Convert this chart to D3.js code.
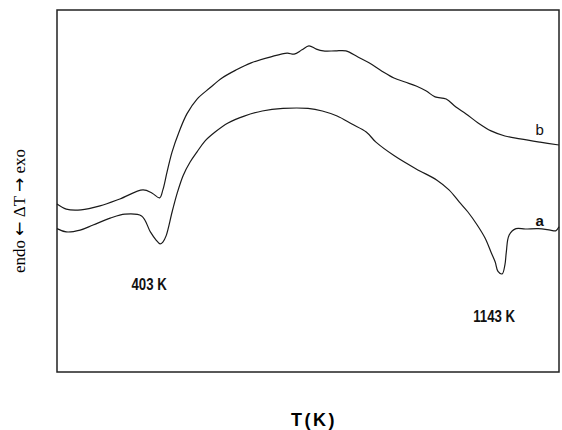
<!DOCTYPE html>
<html lang="en">
<head>
<meta charset="UTF-8">
<title>DTA curves</title>
<script src="https://cdnjs.cloudflare.com/ajax/libs/d3/7.8.5/d3.min.js"></script>
<style>
  body { margin: 0; background: #fff; }
  .curve { fill: none; stroke: #1a1a1a; stroke-width: 1.2; stroke-linejoin: round; }
  .frame { fill: none; stroke: #222; stroke-width: 1.5; }
  .peak { font-family: "Liberation Sans", Arial, sans-serif; font-weight: bold; font-size: 16.5px; fill: #111; }
  .tag { font-family: "Liberation Sans", Arial, sans-serif; font-size: 15px; fill: #111; }
</style>
</head>
<body>
<div id="chart"></div>
<script>
// temperature (K) and ΔT (arbitrary units)
const tempB = [180, 200, 232, 273, 316, 366, 386, 402, 409, 418, 429, 444, 461, 483, 511, 537, 567, 600, 641, 678, 693, 710, 725, 741, 756, 782, 805, 831, 855, 883, 909, 933, 957, 979, 998, 1022, 1043, 1065, 1091, 1119, 1149, 1182, 1225, 1266];
const dtB   = [46.4, 45.0, 44.8, 45.9, 47.8, 50.3, 49.4, 48.1, 50.3, 55.2, 60.8, 66.3, 71.3, 75.4, 78.5, 81.2, 83.4, 85.4, 87.0, 88.1, 87.8, 89.0, 90.1, 89.2, 88.7, 88.7, 88.7, 87.0, 85.4, 83.1, 81.2, 80.1, 79.0, 77.6, 76.0, 75.4, 73.2, 71.3, 68.8, 66.6, 65.2, 64.4, 63.5, 62.7];

const tempA = [180, 200, 230, 258, 295, 327, 363, 382, 394, 403, 409, 416, 429, 440, 453, 468, 483, 500, 522, 550, 585, 624, 669, 723, 754, 786, 818, 849, 870, 909, 957, 1002, 1028, 1050, 1069, 1089, 1106, 1119, 1128, 1134, 1143, 1149, 1152, 1158, 1173, 1193, 1221, 1247, 1259, 1266];
const dtA   = [39.6, 38.7, 39.2, 40.6, 42.5, 43.6, 43.1, 38.7, 36.5, 35.4, 35.9, 37.6, 44.2, 49.4, 54.3, 58.0, 60.8, 63.8, 66.3, 68.8, 70.7, 72.1, 72.8, 72.8, 72.1, 70.7, 68.5, 66.3, 63.5, 59.8, 56.1, 53.0, 50.3, 47.0, 44.2, 40.6, 37.0, 33.1, 30.4, 27.8, 27.1, 29.6, 33.1, 37.8, 39.6, 39.5, 39.6, 39.2, 39.0, 40.1];

const peakLabels = ["403 K", "1143 K"];
const peakTemps = [403, 1143];
const peakDt = [22.7, 13.8];

const curveNames = ["a", "b"];
const curveTagAt = [[1224, 40.3], [1224, 65.5]];

const width = 562, height = 430;
const svg = d3.select("#chart").append("svg")
  .attr("width", width).attr("height", height);

const x = d3.scaleLinear().domain([180, 1266]).range([57, 559]);
const y = d3.scaleLinear().domain([0, 100]).range([372, 10]);

// plot frame
svg.append("rect").attr("class", "frame")
  .attr("x", x.range()[0]).attr("y", y.range()[1])
  .attr("width", x.range()[1] - x.range()[0])
  .attr("height", y.range()[0] - y.range()[1]);

const line = d3.line()
  .x(d => x(d[0]))
  .y(d => y(d[1]))
  .curve(d3.curveCatmullRom.alpha(0.5));

svg.append("path").attr("class", "curve")
  .attr("d", line(d3.zip(tempA, dtA)));
svg.append("path").attr("class", "curve")
  .attr("d", line(d3.zip(tempB, dtB)));

curveNames.forEach((n, i) => {
  svg.append("text").attr("class", "tag")
    .attr("x", x(curveTagAt[i][0]))
    .attr("y", y(curveTagAt[i][1]))
    .attr("text-anchor", "middle")
    .style("font-weight", n === "a" ? "bold" : "normal")
    .text(n);
});

// condensed bold peak labels (squeezed horizontally)
peakLabels.forEach((t, i) => {
  const px = x(peakTemps[i]) - 11 + i * 3;
  svg.append("text").attr("class", "peak")
    .attr("transform", `translate(${px},${y(peakDt[i])}) scale(0.8,1)`)
    .attr("text-anchor", "middle")
    .text(t);
});

// axis titles
svg.append("text")
  .attr("x", 314).attr("y", 426)
  .attr("text-anchor", "middle")
  .style("font-family", "'Liberation Sans', Arial, sans-serif")
  .style("font-weight", "bold").style("font-size", "18px")
  .style("letter-spacing", "2.5px")
  .text("T(K)");

const ylab = svg.append("text")
  .attr("transform", "translate(25,211) rotate(-90)")
  .attr("text-anchor", "middle")
  .style("font-family", "'Liberation Serif', 'Times New Roman', serif")
  .style("font-size", "17px");
ylab.append("tspan").text("endo ");
ylab.append("tspan").style("font-family", "'DejaVu Sans', sans-serif").text("\u2190");
ylab.append("tspan").text(" \u0394T ");
ylab.append("tspan").style("font-family", "'DejaVu Sans', sans-serif").text("\u2192");
ylab.append("tspan").text(" exo");
</script>
</body>
</html>
